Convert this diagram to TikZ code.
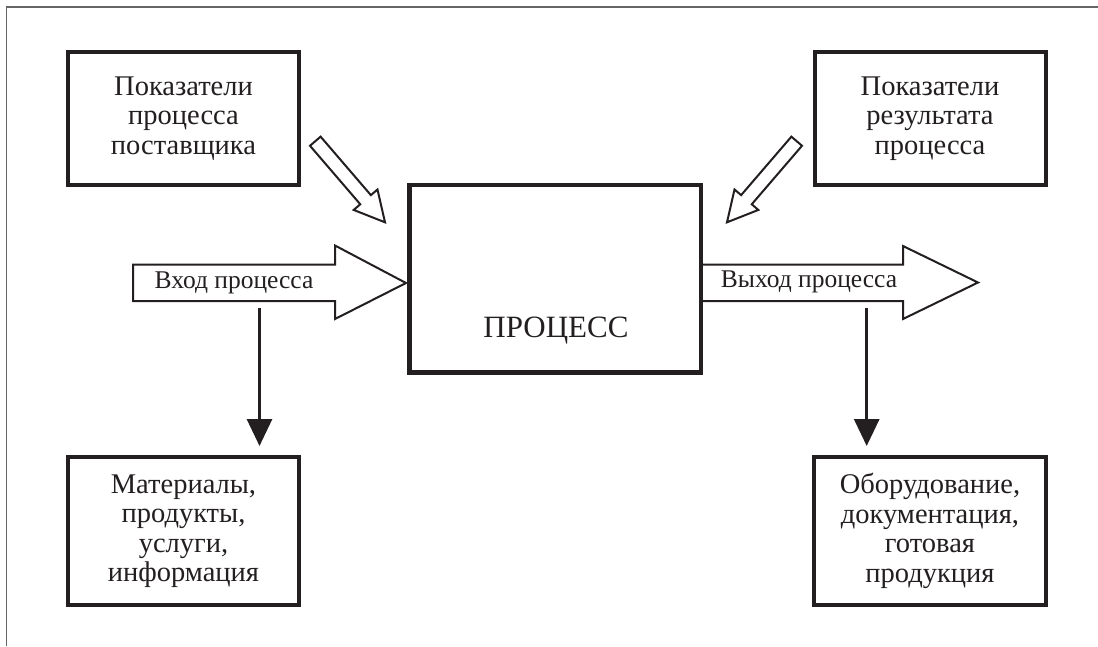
\documentclass[tikz,border=0pt]{standalone}
\usepackage{fontspec}
\setmainfont{Liberation Serif}
\usetikzlibrary{calc,arrows.meta}
\definecolor{ink}{HTML}{231F20}
\tikzset{
  boxnode/.style={draw=ink, line width=4pt, fill=white, align=center, inner sep=0pt,
    font=\fontsize{28.5}{29.5}\selectfont, text=ink},
  blockarrow/.style={draw=ink, line width=2pt, fill=white, line join=miter},
  arrlabel/.style={font=\fontsize{25.5}{28}\selectfont, text=ink, inner sep=0pt},
  downarrow/.style={draw=ink, line width=3pt, -{Triangle[length=27pt,width=25pt]}},
  frameline/.style={draw=black!60, line width=1.2pt}
}
\begin{document}
\begin{tikzpicture}[x=1pt,y=-1pt]
\useasboundingbox (0,0) rectangle (1098,646);
\draw[frameline] (6.5,646) -- (6.5,7) -- (1098,7);

% boxes
\node[boxnode, minimum width=231pt, minimum height=133pt] (sup) at (183.5,118.5)
  {Показатели\\процесса\\поставщика};
\node[boxnode, minimum width=231pt, minimum height=133pt] (res) at (930,118.5)
  {Показатели\\результата\\процесса};
\node[boxnode, minimum width=231pt, minimum height=148pt] (mat) at (183.5,531)
  {Материалы,\\продукты,\\услуги,\\информация};
\node[boxnode, minimum width=232pt, minimum height=148pt] (equ) at (930,531)
  {Оборудование,\\документация,\\готовая\\продукция};

% input block arrow
\coordinate (inT) at (133,283);
\coordinate (inP) at (406,283);
\draw[blockarrow] (133,264.5) -- (335,264.5) -- (335,245.5) -- (inP) -- (335,319) -- (335,301) -- (133,301) -- cycle;
\node[arrlabel, anchor=base] (inlbl) at (234,288.3) {Вход процесса};

% output block arrow
\coordinate (outP) at (978,282.5);
\draw[blockarrow] (701,264.5) -- (903,264.5) -- (903,246) -- (outP) -- (903,319) -- (903,301) -- (701,301);
\node[arrlabel, anchor=base] (outlbl) at (809,287.7) {Выход процесса};

% process box
\node[draw=ink, line width=4.5pt, minimum width=291.5pt, minimum height=187.5pt, inner sep=0pt] (proc) at (555.25,278.75) {};
\node[font=\fontsize{31}{34}\selectfont, text=ink, anchor=base, inner sep=0pt] (proclbl) at (556,337) {ПРОЦЕСС};

% diagonal hollow arrows
\coordinate (T1) at (315.3,141.2);
\coordinate (P1) at (385,222.3);
\coordinate (H1) at ($(P1)!29.8pt!(T1)$);
\draw[blockarrow] ($(T1)!7pt!90:(P1)$) -- ($(H1)!7pt!-90:(T1)$) -- ($(H1)!15.7pt!-90:(T1)$) -- (P1)
  -- ($(H1)!15.7pt!90:(T1)$) -- ($(H1)!7pt!90:(T1)$) -- ($(T1)!7pt!-90:(P1)$) -- cycle;

\coordinate (T2) at (796.7,141.2);
\coordinate (P2) at (727,222.3);
\coordinate (H2) at ($(P2)!29.8pt!(T2)$);
\draw[blockarrow] ($(T2)!7pt!90:(P2)$) -- ($(H2)!7pt!-90:(T2)$) -- ($(H2)!15.7pt!-90:(T2)$) -- (P2)
  -- ($(H2)!15.7pt!90:(T2)$) -- ($(H2)!7pt!90:(T2)$) -- ($(T2)!7pt!-90:(P2)$) -- cycle;

% vertical arrows
\coordinate (inS) at (259.5,308);
\coordinate (outS) at (866.7,308);
\draw[downarrow] (inS) -- (inS |- mat.north) [shorten >=9pt];
\draw[downarrow, shorten >=9pt] (outS) -- (outS |- equ.north);
\end{tikzpicture}
\end{document}
